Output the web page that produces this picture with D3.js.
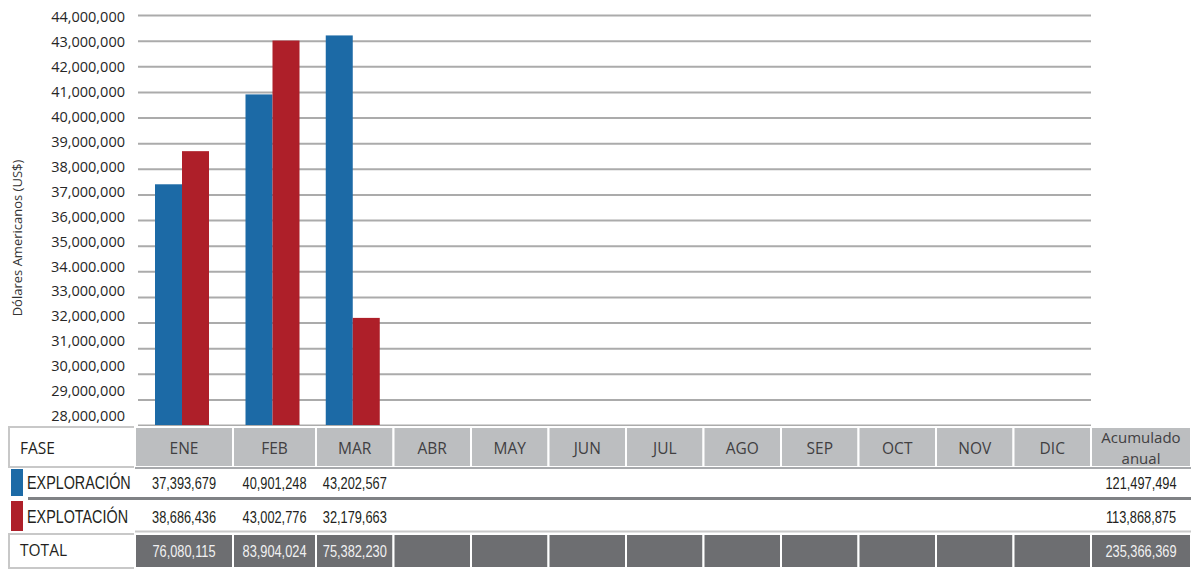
<!DOCTYPE html>
<html>
<head>
<meta charset="utf-8">
<script src="https://cdn.jsdelivr.net/npm/d3@7"></script>
<style>
  body { margin: 0; background: #fff; }
  .tick text { font-family: "Open Sans", sans-serif; }
</style>
</head>
<body>
<div id="chart"></div>
<script>
// Data
const months = ["ENE", "FEB", "MAR", "ABR", "MAY", "JUN", "JUL", "AGO", "SEP", "OCT", "NOV", "DIC"];
const seriesNames = ["EXPLORACIÓN", "EXPLOTACIÓN"];
const exploracion = [37393679, 40901248, 43202567];
const explotacion = [38686436, 43002776, 32179663];
const yTicks = [28e6, 29e6, 30e6, 31e6, 32e6, 33e6, 34e6, 35e6, 36e6, 37e6, 38e6, 39e6, 40e6, 41e6, 42e6, 43e6, 44e6];
const yTickLabels = ["28,000,000", "29,000,000", "30,000,000", "31,000,000", "32,000,000", "33,000,000",
    "34.000.000", "35,000,000", "36,000,000", "37,000,000", "38,000,000", "39,000,000", "40,000,000",
    "41,000,000", "42,000,000", "43,000,000", "44,000,000"];

// Layout: table column widths (first month column is wider in the original)
const colWidths = [98, 83, 77.5, 77.5, 77.5, 77.5, 77.5, 77.5, 77.5, 77.5, 77.5, 77.5];
const colors = ["#1c6aa6", "#ae1f29"];
const width = 1198;
const height = 570;
const plot = { left: 135, right: 1091, top: 15, bottom: 425 };
const barWidth = 27;
const fmt = d3.format(",");

const seriesValues = [exploracion, explotacion];
const totals = exploracion.map((v, i) => v + explotacion[i]);

const svg = d3.select("#chart")
    .append("svg")
    .attr("width", width)
    .attr("height", height);

// Scales
const lefts = colWidths.map((w, i) => plot.left + d3.sum(colWidths.slice(0, i)));
const x = d3.scaleOrdinal().domain(months).range(lefts);
const xw = d3.scaleOrdinal().domain(months).range(colWidths);
const xc = m => x(m) + xw(m) / 2;

const y = d3.scaleLinear()
    .domain([28e6, 44e6])
    .range([plot.bottom, plot.top]);

// labels sit a bit tighter than the gridlines in the original
const yLabel = d3.scaleLinear()
    .domain([28e6, 44e6])
    .range([416, 17]);

// Gridlines
svg.append("g")
    .attr("class", "grid")
    .attr("transform", `translate(${plot.left + 3},0)`)
    .call(d3.axisLeft(y).tickValues(yTicks).tickFormat("").tickSize(-(plot.right - plot.left - 3)))
    .call(g => g.select(".domain").remove())
    .call(g => g.selectAll(".tick line").attr("stroke", "#ababab").attr("stroke-width", 2));

// y axis labels
svg.append("g")
    .attr("class", "y-axis")
    .attr("transform", `translate(${plot.left - 7},0)`)
    .call(d3.axisLeft(yLabel).tickValues(yTicks).tickFormat((d, i) => yTickLabels[i]).tickSize(0))
    .call(g => g.select(".domain").remove())
    .call(g => g.selectAll(".tick text").attr("fill", "#262626").attr("font-size", 14.5));

// y-axis label
svg.append("text")
    .attr("transform", "rotate(-90)")
    .attr("x", -238)
    .attr("y", 22)
    .attr("text-anchor", "middle")
    .attr("font-family", "Open Sans, sans-serif")
    .attr("font-size", 13)
    .attr("fill", "#333")
    .text("Dólares Americanos (US$)");

// Bars
seriesNames.forEach((name, s) => {
    svg.append("g")
        .selectAll("rect")
        .data(seriesValues[s])
        .enter().append("rect")
        .attr("x", (d, i) => xc(months[i]) - barWidth + s * barWidth - 2)
        .attr("y", d => y(d))
        .attr("width", barWidth)
        .attr("height", d => plot.bottom - y(d))
        .attr("fill", colors[s]);
});

// Table
const accLeft = plot.right;
const accRight = 1191;
const accMid = (accLeft + accRight) / 2;
const table = svg.append("g").attr("class", "table");

// narrow text: Liberation Sans squeezed horizontally
function narrow(sel, tx, ty, text, size, fill, anchor, sx) {
    return sel.append("text")
        .attr("transform", `translate(${tx},${ty}) scale(${sx},1)`)
        .attr("dy", "0.36em")
        .attr("text-anchor", anchor)
        .attr("font-family", "Liberation Sans, Arial, sans-serif")
        .attr("font-size", size)
        .attr("fill", fill)
        .text(text);
}

// header row
const hTop = 427, hBot = 467;
table.append("rect")
    .attr("x", 9).attr("y", hTop).attr("width", plot.left - 9).attr("height", hBot - hTop)
    .attr("fill", "#fff").attr("stroke", "#c8c8c8").attr("stroke-width", 2);
table.append("text")
    .attr("x", 20).attr("y", 449).attr("dy", "0.35em")
    .attr("font-family", "Open Sans, sans-serif").attr("font-size", 15.5).attr("fill", "#231f20")
    .text("FASE");

table.selectAll(".hcell")
    .data(months)
    .enter().append("rect")
    .attr("class", "hcell")
    .attr("x", d => x(d)).attr("y", hTop)
    .attr("width", d => xw(d)).attr("height", hBot - hTop)
    .attr("fill", "#bcbec0").attr("stroke", "#fff").attr("stroke-width", 2);
table.append("rect")
    .attr("x", accLeft).attr("y", hTop).attr("width", accRight - accLeft).attr("height", hBot - hTop)
    .attr("fill", "#bcbec0").attr("stroke", "#fff").attr("stroke-width", 2);

table.selectAll(".htext")
    .data(months)
    .enter().append("text")
    .attr("class", "htext")
    .attr("x", d => xc(d)).attr("y", 449).attr("dy", "0.35em")
    .attr("text-anchor", "middle")
    .attr("font-family", "Open Sans, sans-serif").attr("font-size", 15.5).attr("fill", "#414042")
    .text(d => d);
["Acumulado", "anual"].forEach((t, i) => {
    table.append("text")
        .attr("x", accMid).attr("y", 438 + i * 21).attr("dy", "0.35em")
        .attr("text-anchor", "middle")
        .attr("font-family", "Open Sans, sans-serif").attr("font-size", 15).attr("fill", "#414042")
        .text(t);
});

table.append("line")
    .attr("x1", plot.left).attr("x2", accRight).attr("y1", 468).attr("y2", 468)
    .attr("stroke", "#a7a9ac").attr("stroke-width", 2);

// series rows
const rows = [{ top: 469, bot: 496, mid: 483 }, { top: 501, bot: 531, mid: 517 }];
seriesNames.forEach((name, s) => {
    const r = rows[s];
    table.append("rect")
        .attr("x", 11).attr("y", r.top).attr("width", 12).attr("height", r.bot - r.top)
        .attr("fill", colors[s]);
    narrow(table, 27, r.mid, name, 17.5, "#231f20", "start", 0.82);
    seriesValues[s].forEach((v, i) => {
        narrow(table, xc(months[i]), r.mid, fmt(v), 16, "#231f20", "middle", 0.8);
    });
    narrow(table, accMid, r.mid, fmt(d3.sum(seriesValues[s])), 16, "#231f20", "middle", 0.8);
});

table.append("line")
    .attr("x1", 28).attr("x2", accRight).attr("y1", 498.5).attr("y2", 498.5)
    .attr("stroke", "#808285").attr("stroke-width", 3);
table.append("line")
    .attr("x1", plot.left).attr("x2", accRight).attr("y1", 531.5).attr("y2", 531.5)
    .attr("stroke", "#c8c8c8").attr("stroke-width", 2);

// total row
const tTop = 534, tBot = 568;
table.append("rect")
    .attr("x", 9).attr("y", tTop).attr("width", plot.left - 9).attr("height", tBot - tTop)
    .attr("fill", "#fff").attr("stroke", "#c8c8c8").attr("stroke-width", 2);
table.append("text")
    .attr("x", 20).attr("y", 551).attr("dy", "0.35em")
    .attr("font-family", "Open Sans, sans-serif").attr("font-size", 15.5).attr("fill", "#231f20")
    .text("TOTAL");

table.selectAll(".tcell")
    .data(months)
    .enter().append("rect")
    .attr("class", "tcell")
    .attr("x", d => x(d)).attr("y", tTop)
    .attr("width", d => xw(d)).attr("height", tBot - tTop)
    .attr("fill", "#6d6e71").attr("stroke", "#fff").attr("stroke-width", 2);
table.append("rect")
    .attr("x", accLeft).attr("y", tTop).attr("width", accRight - accLeft).attr("height", tBot - tTop)
    .attr("fill", "#6d6e71").attr("stroke", "#fff").attr("stroke-width", 2);

totals.forEach((v, i) => {
    narrow(table, xc(months[i]), 551, fmt(v), 16, "#f1f1f2", "middle", 0.8);
});
narrow(table, accMid, 551, fmt(d3.sum(totals)), 16, "#f1f1f2", "middle", 0.8);
</script>
</body>
</html>
